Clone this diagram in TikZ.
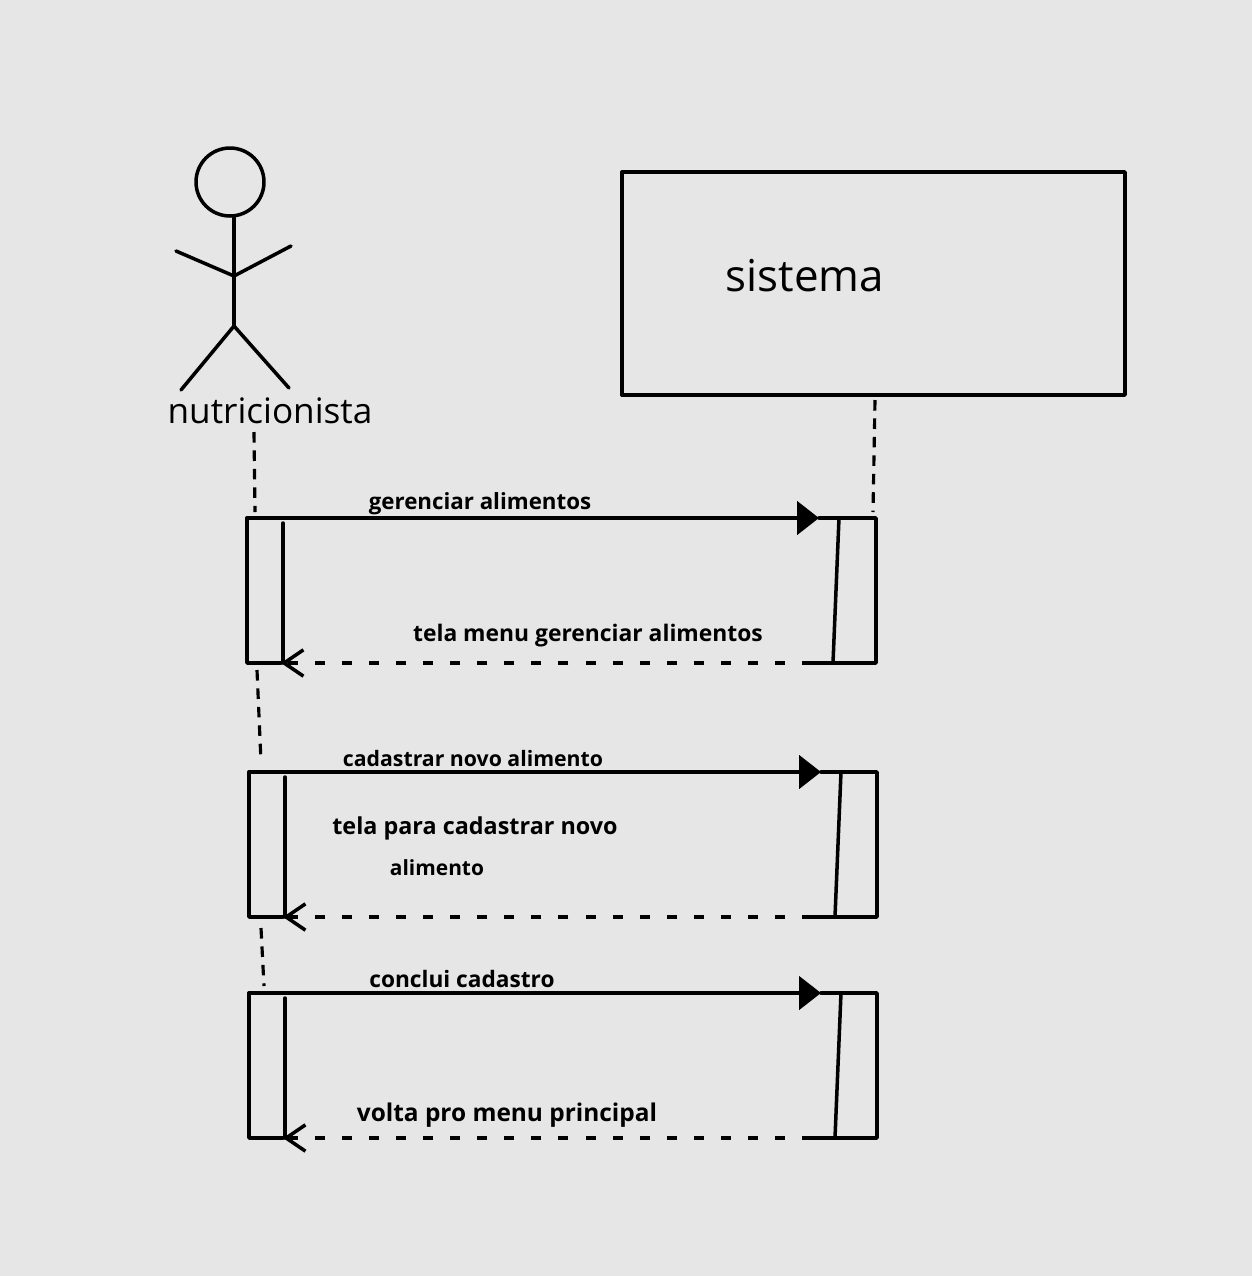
\documentclass[tikz,border=0pt]{standalone}
\usepackage{fontspec}
\setmainfont{Open Sans}
\usepackage{tikz}
\usetikzlibrary{arrows.meta}
\definecolor{paper}{HTML}{E6E6E6}
\tikzset{
  traco/.style={line width=2pt, line join=round, line cap=round},
  fino/.style={line width=2pt, line cap=round},
  linhavida/.style={line width=1.8pt, dash pattern=on 6pt off 4.5pt},
  chamada/.style={traco, -{Triangle[length=12.5pt,width=19pt]}},
  retorno/.style={line width=2pt, dash pattern=on 5.7pt off 9.7pt, -{Straight Barb[length=11pt,width=15pt,line width=2pt]}},
  rotulo/.style={font=\fontsize{#1}{15}\selectfont\bfseries, inner sep=0pt},
  rotulogrande/.style={font=\fontsize{#1}{24}\selectfont, inner sep=0pt}
}
\begin{document}
\begin{tikzpicture}[x=0.02cm, y=-0.02cm]
\fill[paper] (0, 0) rectangle (1252, 1276);
\useasboundingbox (0, 0) rectangle (1252, 1276);

% ator
\node[draw, traco, circle, minimum size=1.36cm, inner sep=0pt] (cabeca) at (230, 182) {};
\coordinate (pescoco) at (234, 216);
\coordinate (ombro) at (234, 276);
\coordinate (quadril) at (234, 326);
\coordinate (maoE) at (176, 251);
\coordinate (maoD) at (291, 246);
\coordinate (peE) at (181, 390);
\coordinate (peD) at (289, 388);
\draw[traco] (pescoco) -- (quadril);
\draw[traco] (maoE) -- (ombro) -- (maoD);
\draw[traco] (peE) -- (quadril) -- (peD);
\node[rotulogrande=20] (nutri) at (270, 411) {nutricionista};

% sistema
\node[draw, traco, minimum width=10.06cm, minimum height=4.46cm] (sist) at (873.5, 283.5) {};
\node[rotulogrande=25] (sisttxt) at (805, 276) {sistema};

% primeiro bloco
\coordinate (A1) at (247, 518);
\coordinate (P1) at (819, 518);
\coordinate (B1) at (876, 518);
\coordinate (C1) at (876, 663);
\coordinate (F1) at (812, 663);
\coordinate (E1) at (281, 663);
\coordinate (D1) at (247, 663);
\draw[traco] (P1) -- (B1) -- (C1) -- (F1);
\draw[traco] (E1) -- (D1) -- (A1);
\draw[chamada] (A1) -- (P1);
\draw[retorno] (F1) -- (E1);
\draw[fino] (283, 523) -- (283, 663);
\draw[fino] (839, 518) -- (833, 663);
\node[rotulo=12.7] (msg1) at (480, 504) {gerenciar alimentos};
\node[rotulo=13] (msg2) at (588, 636) {tela menu gerenciar alimentos};

% segundo bloco
\coordinate (A2) at (249, 772);
\coordinate (P2) at (821, 772);
\coordinate (B2) at (877, 772);
\coordinate (C2) at (877, 917);
\coordinate (F2) at (812, 917);
\coordinate (E2) at (283, 917);
\coordinate (D2) at (249, 917);
\draw[traco] (P2) -- (B2) -- (C2) -- (F2);
\draw[traco] (E2) -- (D2) -- (A2);
\draw[chamada] (A2) -- (P2);
\draw[retorno] (F2) -- (E2);
\draw[fino] (285, 777) -- (285, 917);
\draw[fino] (841, 772) -- (835, 917);
\node[rotulo=12.1] (msg3) at (473, 759) {cadastrar novo alimento};
\node[rotulo=13.3] (msg4) at (475, 828) {tela para cadastrar novo};
\node[rotulo=11.9] (msg5) at (437, 868) {alimento};

% terceiro bloco
\coordinate (A3) at (249, 993);
\coordinate (P3) at (821, 993);
\coordinate (B3) at (877, 993);
\coordinate (C3) at (877, 1138);
\coordinate (F3) at (812, 1138);
\coordinate (E3) at (283, 1138);
\coordinate (D3) at (249, 1138);
\draw[traco] (P3) -- (B3) -- (C3) -- (F3);
\draw[traco] (E3) -- (D3) -- (A3);
\draw[chamada] (A3) -- (P3);
\draw[retorno] (F3) -- (E3);
\draw[fino] (285, 998) -- (285, 1138);
\draw[fino] (841, 993) -- (835, 1138);
\node[rotulo=12.9] (msg6) at (462, 979) {conclui cadastro};
\node[rotulo=13.9] (msg7) at (507, 1115) {volta pro menu principal};

% linhas de vida
\coordinate (V1) at (254, 432);
\coordinate (V2) at (255, 512);
\coordinate (V3) at (875, 400);
\coordinate (V4) at (873, 512);
\coordinate (V5) at (257, 670);
\coordinate (V6) at (261, 762);
\coordinate (V7) at (261, 928);
\coordinate (V8) at (264, 986);
\draw[linhavida] (V1) -- (V2);
\draw[linhavida] (V3) -- (V4);
\draw[linhavida] (V5) -- (V6);
\draw[linhavida] (V7) -- (V8);
\end{tikzpicture}
\end{document}
